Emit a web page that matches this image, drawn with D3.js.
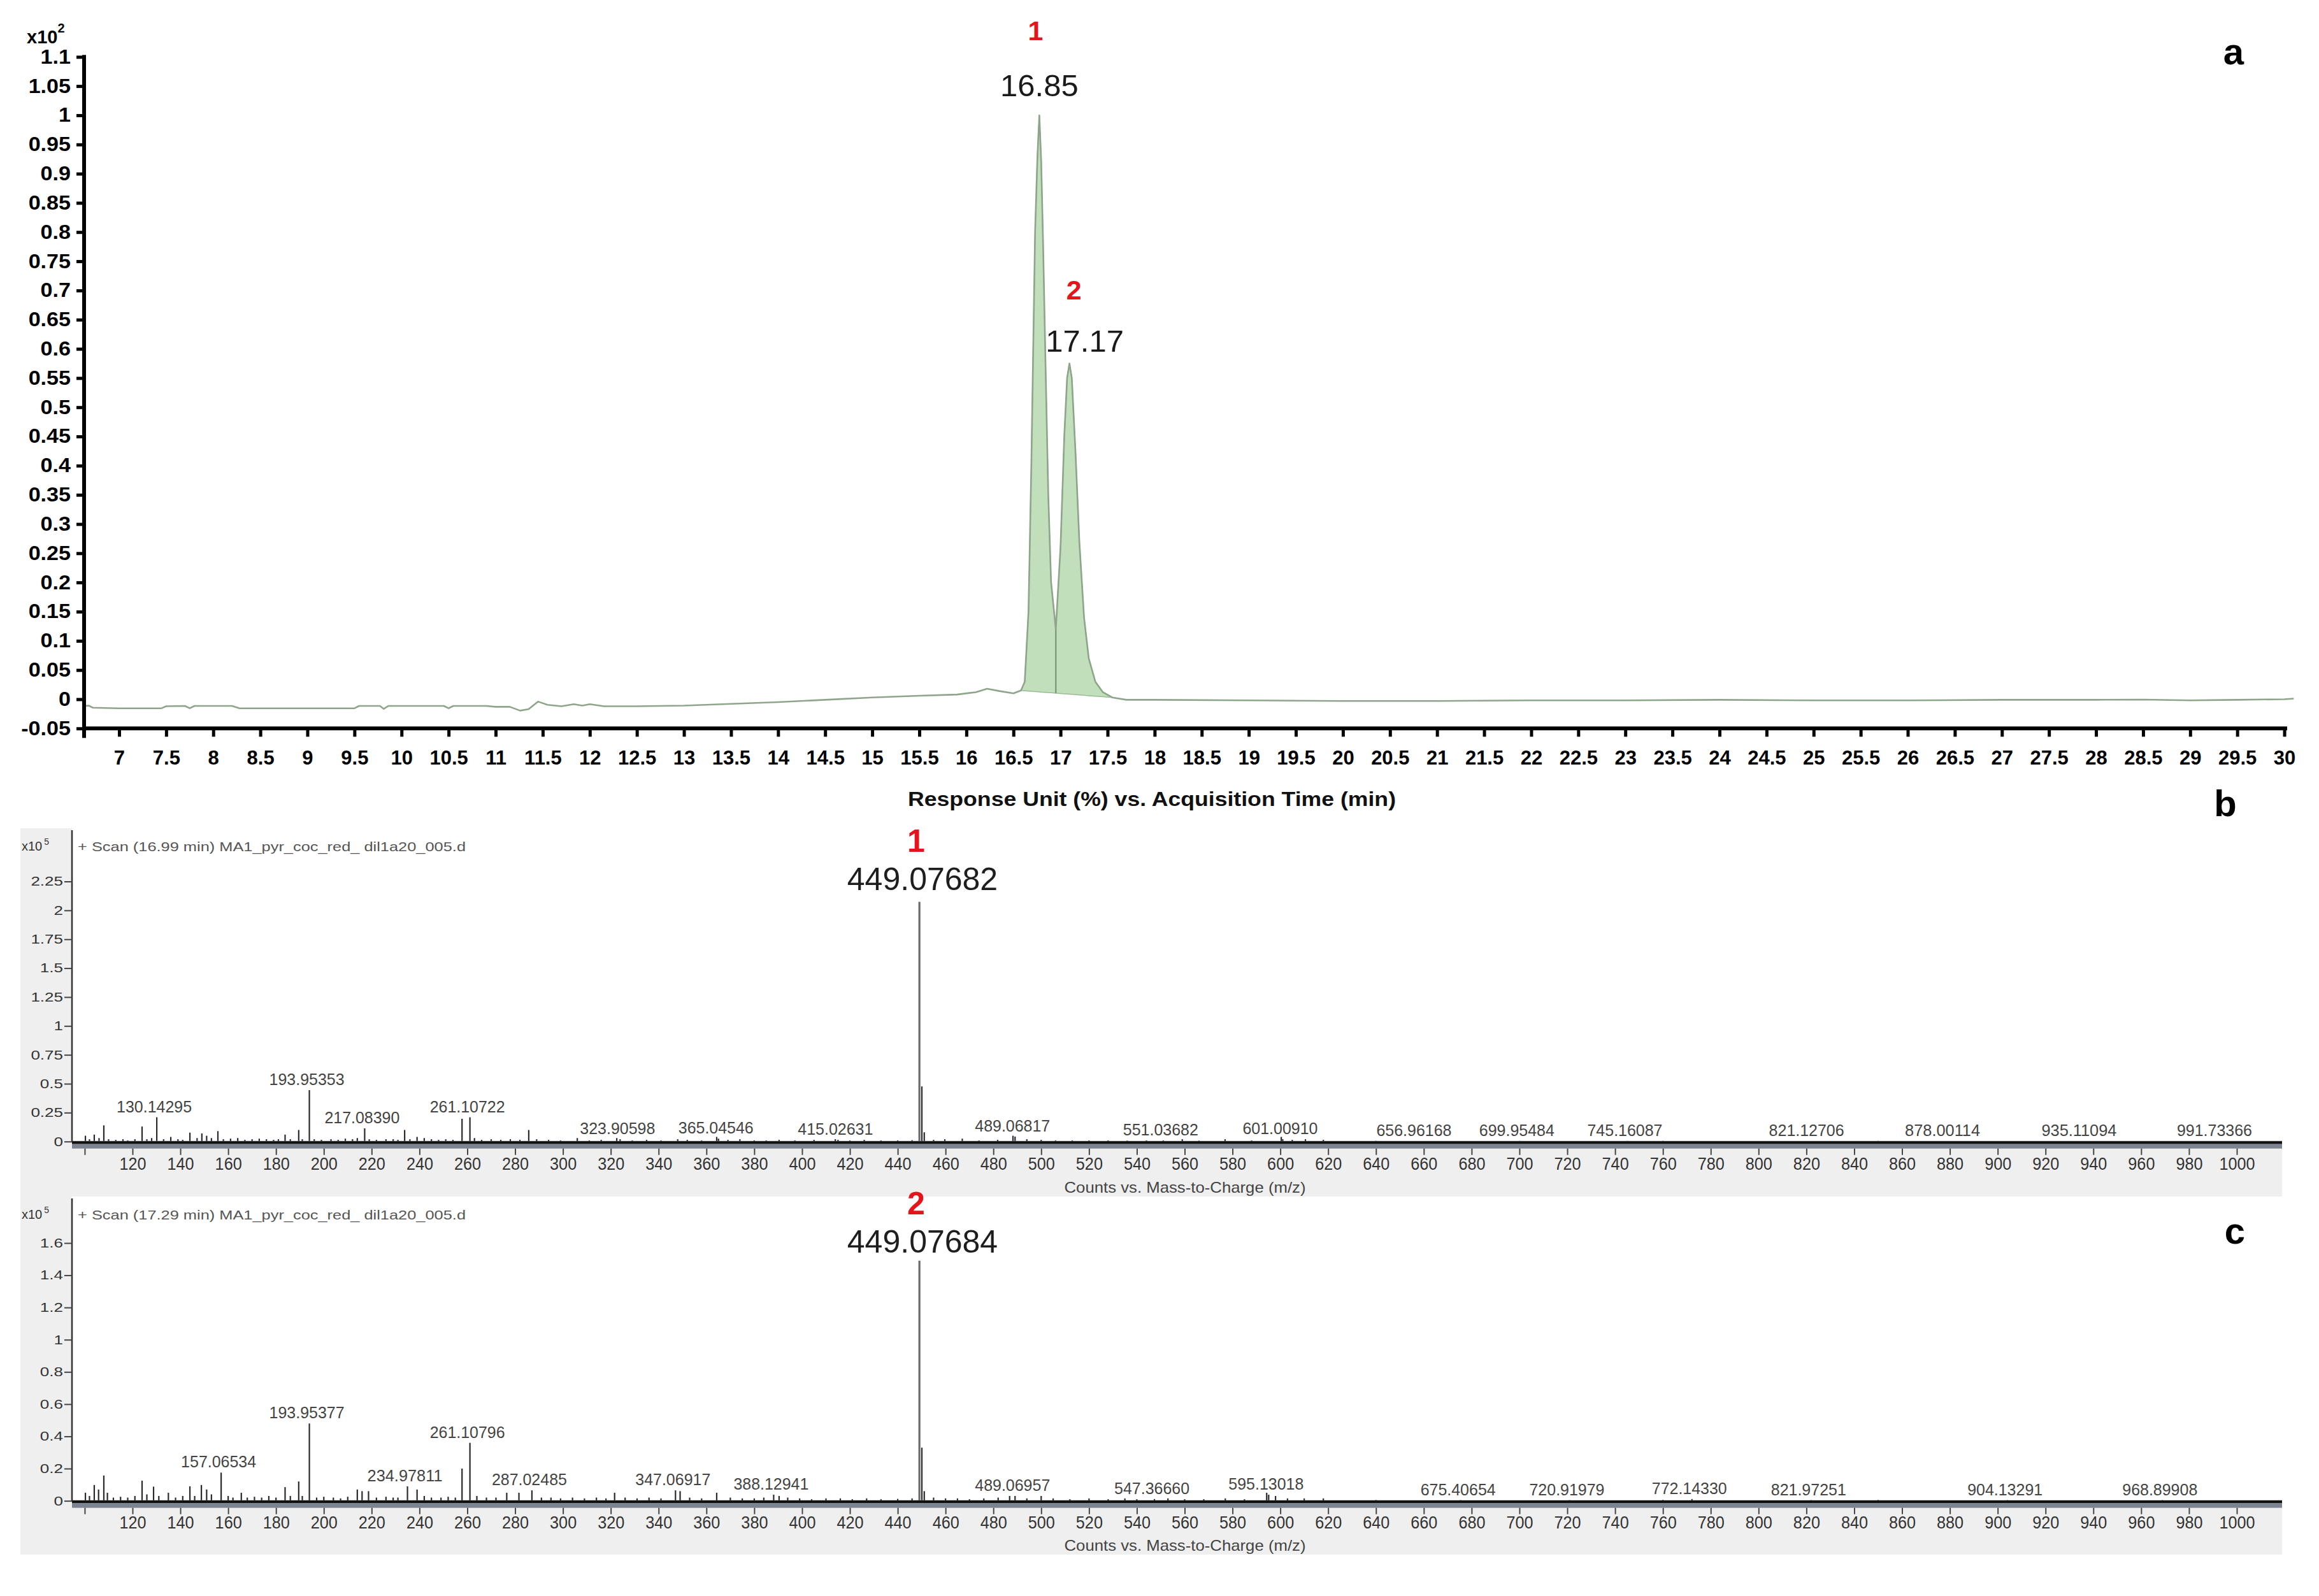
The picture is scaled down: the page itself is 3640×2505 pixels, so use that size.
<!DOCTYPE html>
<html><head><meta charset="utf-8">
<script src="https://cdn.jsdelivr.net/npm/d3@7"></script>
<style>
body{margin:0;background:#fff}
svg{display:block}
text{font-family:"Liberation Sans",Arial,Helvetica,sans-serif}
</style>
</head><body>
<svg id="fig" width="3640" height="2505"></svg>
<script>
// ---------------- DATA ----------------
// Panel a: chromatogram, [time (min), response (x10^2 %)]
const chromatogram = [
 [6.63,-0.0115],[6.68,-0.011],[6.72,-0.0145],[7.0,-0.0155],[7.45,-0.0155],[7.5,-0.012],[7.7,-0.0115],
 [7.75,-0.0155],[7.8,-0.0115],[8.2,-0.0115],[8.28,-0.0155],[9.5,-0.0155],[9.55,-0.0115],[9.77,-0.0115],
 [9.81,-0.0165],[9.86,-0.0115],[10.45,-0.0115],[10.5,-0.0155],[10.55,-0.0115],[10.9,-0.0115],[11.0,-0.013],
 [11.15,-0.013],[11.26,-0.0195],[11.35,-0.017],[11.45,-0.004],[11.55,-0.0095],[11.7,-0.012],[11.83,-0.0085],
 [11.92,-0.011],[12.0,-0.0085],[12.15,-0.012],[12.5,-0.012],[13.0,-0.011],[13.5,-0.008],[14.0,-0.005],
 [14.5,-0.001],[15.0,0.003],[15.5,0.006],[15.9,0.008],[16.1,0.012],[16.22,0.018],[16.35,0.014],[16.5,0.01],
 [16.58,0.015],[16.62,0.03],[16.66,0.15],[16.69,0.4],[16.71,0.6],[16.73,0.8],[16.755,0.93],[16.775,1.0],
 [16.795,0.92],[16.815,0.78],[16.84,0.58],[16.87,0.35],[16.9,0.2],[16.95,0.12],[17.0,0.26],[17.04,0.45],
 [17.07,0.55],[17.095,0.575],[17.12,0.55],[17.16,0.42],[17.2,0.27],[17.25,0.14],[17.3,0.07],[17.37,0.03],
 [17.45,0.012],[17.55,0.003],[17.7,-0.001],[18,-0.001],[19,-0.002],[20,-0.003],[21,-0.003],[22,-0.002],
 [23,-0.002],[24,-0.001],[25,-0.002],[26,-0.002],[27,-0.001],[28,-0.001],[28.5,-0.0005],[29,-0.002],
 [29.5,-0.001],[30,0.0],[30.1,0.001]
];
const peakWindowsA = [[16.58,16.95],[16.95,17.55]];
const peakApexA = [16.775, 17.095];
const peakRtLabelsA = ["16.85","17.17"];
const peakNumLabelsA = ["1","2"];
const xTicksA = [7,7.5,8,8.5,9,9.5,10,10.5,11,11.5,12,12.5,13,13.5,14,14.5,15,15.5,16,16.5,17,17.5,18,18.5,19,19.5,20,20.5,21,21.5,22,22.5,23,23.5,24,24.5,25,25.5,26,26.5,27,27.5,28,28.5,29,29.5,30];
const yTicksA = [-0.05,0,0.05,0.1,0.15,0.2,0.25,0.3,0.35,0.4,0.45,0.5,0.55,0.6,0.65,0.7,0.75,0.8,0.85,0.9,0.95,1,1.05,1.1];

// Panel b: MS scan at 16.99 min, [m/z, counts x10^5]
const mainPeakB = [449.07682, 2.074];
const labeledPeaksB = [
 [130.14295,0.21],[193.95353,0.445],[217.08390,0.114],[261.10722,0.21],[323.90598,0.02],[365.04546,0.025],
 [415.02631,0.015],[489.06817,0.043],[551.03682,0.01],[601.00910,0.02],[656.96168,0.004],[699.95484,0.004],
 [745.16087,0.005],[821.12706,0.004],[878.00114,0.004],[935.11094,0.004],[991.73366,0.004]
];
const minorPeaksB = [
 [100.3,0.05],[102,0.02],[104,0.06],[106,0.03],[108,0.14],[110,0.02],[113,0.015],[116,0.02],[118,0.01],[121,0.02],
 [124,0.13],[126,0.02],[128,0.03],[133,0.02],[136,0.04],[139,0.02],[141,0.015],[144,0.077],[147,0.03],[149,0.07],
 [151,0.05],[153,0.03],[155.7,0.09],[158,0.02],[161,0.025],[164,0.03],[167,0.015],[170,0.02],[173,0.025],[176,0.02],
 [179,0.015],[181,0.02],[183.8,0.06],[186,0.02],[189.5,0.10],[191,0.02],[196,0.02],[199,0.015],[203,0.02],[206,0.015],
 [209,0.025],[212,0.02],[214,0.03],[219,0.02],[222,0.015],[226,0.02],[229,0.02],[231,0.015],[233.8,0.10],[236,0.02],
 [239,0.04],[242,0.03],[245,0.02],[248,0.015],[251,0.02],[254,0.015],[257.8,0.197],[263,0.03],[266,0.015],[270,0.02],
 [274,0.015],[278,0.02],[282,0.015],[285.7,0.10],[289,0.02],[294,0.015],[299,0.01],[306,0.03],[311,0.01],[316,0.015],
 [322.5,0.03],[329,0.01],[335,0.015],[341,0.01],[348,0.02],[352,0.015],[358,0.01],[364.3,0.04],[369,0.015],[374,0.02],
 [380,0.01],[385,0.01],[390.4,0.015],[397,0.01],[405,0.015],[413.9,0.02],[420,0.01],[426,0.015],[433,0.01],[440,0.01],
 [446,0.012],[450.1,0.477],[451.1,0.08],[455,0.015],[459.7,0.02],[467,0.025],[474,0.01],[481.8,0.015],[488.2,0.05],
 [494,0.02],[500,0.015],[506,0.01],[513,0.01],[520,0.01],[528,0.01],[536,0.008],[544,0.01],[559,0.02],[566,0.008],
 [576.9,0.02],[588,0.01],[600.4,0.04],[605,0.015],[610.5,0.02],[618,0.015],[640,0.006],[700,0.005],[760,0.006],[850,0.005]
];
// Panel c: MS scan at 17.29 min
const mainPeakC = [449.07684, 1.49];
const labeledPeaksC = [
 [157.06534,0.175],[193.95377,0.48],[234.97811,0.09],[261.10796,0.36],[287.02485,0.065],[347.06917,0.065],
 [388.12941,0.038],[489.06957,0.03],[547.36660,0.011],[595.13018,0.038],[675.40654,0.004],[720.91979,0.004],
 [772.14330,0.011],[821.97251,0.004],[904.13291,0.004],[968.89908,0.004]
];
const minorPeaksC = [
 [100.3,0.05],[102,0.03],[104,0.098],[105.8,0.07],[108,0.157],[109.5,0.05],[112,0.02],[115,0.025],[118,0.02],[121,0.03],
 [124,0.125],[126,0.04],[128.8,0.088],[131,0.03],[135,0.05],[138,0.02],[141,0.03],[144,0.09],[146,0.03],[148.8,0.098],
 [151,0.07],[153,0.04],[160,0.03],[162,0.02],[165.5,0.05],[168,0.02],[171,0.025],[174,0.02],[177,0.03],[180,0.02],
 [183.8,0.085],[186,0.03],[189.5,0.12],[191,0.03],[197,0.02],[200,0.025],[204,0.02],[207,0.015],[210,0.025],[214,0.07],
 [216,0.06],[218.7,0.06],[222,0.02],[226,0.025],[229,0.02],[231,0.02],[239,0.07],[242,0.03],[245,0.02],[249,0.02],
 [252,0.025],[255,0.02],[257.8,0.2],[264,0.03],[268,0.02],[272,0.02],[276.5,0.05],[281.6,0.05],[291,0.02],[295,0.02],
 [299,0.015],[304,0.02],[309,0.015],[314,0.02],[318,0.015],[321.6,0.05],[326,0.02],[331,0.015],[336,0.02],[341,0.015],
 [349,0.06],[353,0.02],[358,0.015],[364.3,0.05],[370,0.02],[375,0.015],[380,0.015],[384,0.02],[390.4,0.03],[394,0.02],
 [399,0.015],[404,0.01],[410,0.015],[416,0.015],[421,0.01],[427,0.015],[433,0.01],[440,0.012],[446,0.015],[450.1,0.33],
 [451.1,0.06],[455,0.02],[460,0.015],[465,0.015],[470,0.01],[476,0.015],[482,0.02],[486.8,0.03],[494,0.015],[500,0.03],
 [505,0.015],[512,0.01],[520,0.015],[528,0.01],[535,0.015],[540,0.01],[553,0.015],[560,0.01],[568,0.01],[577,0.015],
 [585,0.01],[594.3,0.05],[598,0.03],[603,0.015],[610,0.015],[618,0.015],[640,0.005],[760,0.006],[850,0.005]
];
const xTicksMS = [100,120,140,160,180,200,220,240,260,280,300,320,340,360,380,400,420,440,460,480,500,520,540,560,580,600,620,640,660,680,700,720,740,760,780,800,820,840,860,880,900,920,940,960,980,1000];
const yTicksB = [0,0.25,0.5,0.75,1,1.25,1.5,1.75,2,2.25];
const yTicksC = [0,0.2,0.4,0.6,0.8,1,1.2,1.4,1.6];
const scanTitles = ["+ Scan (16.99 min) MA1_pyr_coc_red_ dil1a20_005.d", "+ Scan (17.29 min) MA1_pyr_coc_red_ dil1a20_005.d"];

// ---------------- HELPERS ----------------
const svg = d3.select("#fig");
function stretch(sel, f){
  sel.each(function(){
    const w = this.getComputedTextLength();
    if (w > 0) d3.select(this).attr("textLength", w*f).attr("lengthAdjust","spacingAndGlyphs");
  });
}

// ---------------- PANEL A ----------------
const gA = svg.append("g");
const xA = d3.scaleLinear().domain([6.628, 30.03]).range([132, 3590]);
const yA = d3.scaleLinear().domain([-0.05, 1.1]).range([1143.3, 89.3]);

const b0 = chromatogram.find(d=>d[0]===peakWindowsA[0][0]);
const b1 = chromatogram.find(d=>d[0]===peakWindowsA[1][1]);
const baseA = t => b0[1] + (b1[1]-b0[1])*(t-b0[0])/(b1[0]-b0[0]);

const areaA = d3.area().x(d=>xA(d[0])).y0(d=>yA(baseA(d[0]))).y1(d=>yA(d[1]));
peakWindowsA.forEach(w=>{
  const pts = chromatogram.filter(d=>d[0]>=w[0] && d[0]<=w[1]);
  gA.append("path").attr("d", areaA(pts)).attr("fill","#c2dfbc").attr("stroke","#9bbb96").attr("stroke-width",1.5);
});
// split line between the two integrated peaks
const split = chromatogram.find(d=>d[0]===peakWindowsA[0][1]);
gA.append("line").attr("x1",xA(split[0])).attr("x2",xA(split[0]))
  .attr("y1",yA(baseA(split[0]))).attr("y2",yA(split[1])).attr("stroke","#7f9c7b").attr("stroke-width",2.5);
// trace
gA.append("path").attr("d", d3.line().x(d=>xA(d[0])).y(d=>yA(d[1]))(chromatogram))
  .attr("fill","none").attr("stroke","#8ea58b").attr("stroke-width",2.6).attr("stroke-linejoin","round");

// axes
const yAxA = gA.append("g").attr("transform","translate(132,0)")
  .call(d3.axisLeft(yA).tickValues(yTicksA).tickFormat(v=>String(+v.toFixed(2))).tickSize(12).tickPadding(9).tickSizeOuter(0));
yAxA.select(".domain").remove();
yAxA.selectAll(".tick line").attr("stroke","#000").attr("stroke-width",5);
yAxA.selectAll(".tick text").attr("fill","#000").style("font-size","31px").style("font-weight","bold");
stretch(yAxA.selectAll(".tick text"), 1.1);

const xAxA = gA.append("g").attr("transform",`translate(0,${yA(-0.05)})`)
  .call(d3.axisBottom(xA).tickValues(xTicksA).tickFormat(v=>String(v)).tickSize(13).tickPadding(22).tickSizeOuter(0));
xAxA.select(".domain").remove();
xAxA.selectAll(".tick line").attr("stroke","#000").attr("stroke-width",5);
xAxA.selectAll(".tick text").attr("fill","#000").style("font-size","31px").style("font-weight","bold");

gA.append("line").attr("x1",129).attr("x2",3590).attr("y1",yA(-0.05)).attr("y2",yA(-0.05)).attr("stroke","#000").attr("stroke-width",6);
gA.append("line").attr("x1",132).attr("x2",132).attr("y1",yA(1.1)-3).attr("y2",yA(-0.05)+15).attr("stroke","#000").attr("stroke-width",6);

const x10 = gA.append("text").attr("x",42).attr("y",68).attr("font-weight","bold").attr("font-size",29).attr("fill","#000");
x10.append("tspan").text("x10");
x10.append("tspan").attr("dy",-17).attr("font-size",20).text("2");

gA.append("text").attr("x",1808).attr("y",1265).attr("text-anchor","middle").attr("font-weight","bold")
  .attr("font-size",31).attr("fill","#111").attr("textLength",766).attr("lengthAdjust","spacingAndGlyphs")
  .text("Response Unit (%) vs. Acquisition Time (min)");

// peak annotations
const rtOff = [{dx:0, gap:30, ndx:-6, ngap:88, nsize:43},{dx:24, gap:18, ndx:7, ngap:82, nsize:43}];
peakApexA.forEach((t,i)=>{
  const apex = chromatogram.find(d=>d[0]===t);
  const lx = xA(t)+rtOff[i].dx, ly = yA(apex[1]) - rtOff[i].gap;
  gA.append("text").attr("x",lx).attr("y",ly).attr("text-anchor","middle").attr("font-size",49).attr("fill","#1a1a1a").text(peakRtLabelsA[i]);
  gA.append("text").attr("x",xA(t)+rtOff[i].ndx).attr("y",ly-rtOff[i].ngap).attr("text-anchor","middle")
    .attr("font-size",rtOff[i].nsize).attr("font-weight","bold").attr("fill","#e3141b").text(peakNumLabelsA[i]);
});
gA.append("text").attr("x",3506).attr("y",101).attr("text-anchor","middle").attr("font-weight","bold").attr("font-size",58).attr("fill","#000").text("a");

// ---------------- PANELS B & C ----------------
const xMS = d3.scaleLinear().domain([120,1000]).range([208,3511]);
function msPanel(cfg){
  const g = svg.append("g");
  const y = d3.scaleLinear().domain([0, cfg.yTicks[cfg.yTicks.length-1]]).range([cfg.y0, cfg.yTop]);
  g.append("rect").attr("x",32).attr("y",cfg.top).attr("width",3550).attr("height",cfg.bottom-cfg.top).attr("fill","#efefef");
  g.append("rect").attr("x",113).attr("y",cfg.top).attr("width",3469).attr("height",cfg.y0-cfg.top).attr("fill","#fff");

  // spectrum sticks
  const sticks = cfg.minor.concat(cfg.labeled);
  g.selectAll("line.stick").data(sticks).join("line").attr("class","stick")
    .attr("x1",d=>xMS(d[0])).attr("x2",d=>xMS(d[0])).attr("y1",y(0)).attr("y2",d=>y(d[1]))
    .attr("stroke","#2a2a2a").attr("stroke-width",2.2);
  g.append("line").attr("x1",xMS(cfg.main[0])).attr("x2",xMS(cfg.main[0])).attr("y1",y(0)).attr("y2",y(cfg.main[1]))
    .attr("stroke","#6b6b6b").attr("stroke-width",3.2);

  // peak labels
  g.selectAll("text.pl").data(cfg.labeled).join("text").attr("class","pl")
    .attr("x",d=>xMS(d[0])-4).attr("y",d=>y(d[1])-8).attr("text-anchor","middle")
    .attr("font-size",26).attr("fill","#444").attr("textLength",118).attr("lengthAdjust","spacingAndGlyphs")
    .text(d=>d[0].toFixed(5));
  g.append("text").attr("x",1448).attr("y",cfg.mainLabelY).attr("text-anchor","middle").attr("font-size",50).attr("fill","#1e1e1e")
    .text(cfg.main[0].toFixed(5));
  g.append("text").attr("x",1438).attr("y",cfg.mainLabelY-60).attr("text-anchor","middle").attr("font-size",50)
    .attr("font-weight","bold").attr("fill","#e3141b").text(cfg.num);

  // x-axis band
  g.append("rect").attr("x",113).attr("y",cfg.y0-1).attr("width",3469).attr("height",12).attr("fill","#7c8391");
  g.append("line").attr("x1",113).attr("x2",3582).attr("y1",cfg.y0+1.5).attr("y2",cfg.y0+1.5).attr("stroke","#111").attr("stroke-width",4);
  const xa = g.append("g").attr("transform",`translate(0,${cfg.y0+11})`)
    .call(d3.axisBottom(xMS).tickValues(xTicksMS).tickFormat(v=>v===100?"":String(v)).tickSize(10).tickPadding(3).tickSizeOuter(0));
  xa.select(".domain").remove();
  xa.selectAll(".tick line").attr("stroke","#444").attr("stroke-width",2);
  xa.selectAll(".tick text").attr("fill","#333").style("font-size","28px");
  stretch(xa.selectAll(".tick text"), 0.9);
  g.append("text").attr("x",1860).attr("y",cfg.titleY).attr("text-anchor","middle").attr("font-size",24).attr("fill","#444")
    .attr("textLength",379).attr("lengthAdjust","spacingAndGlyphs").text("Counts vs. Mass-to-Charge (m/z)");

  // y-axis
  g.append("line").attr("x1",113).attr("x2",113).attr("y1",cfg.top+3).attr("y2",cfg.y0).attr("stroke","#333").attr("stroke-width",2.5);
  const ya = g.append("g").attr("transform","translate(113,0)")
    .call(d3.axisLeft(y).tickValues(cfg.yTicks).tickFormat(v=>String(v)).tickSize(12).tickPadding(2).tickSizeOuter(0));
  ya.select(".domain").remove();
  ya.selectAll(".tick line").attr("stroke","#444").attr("stroke-width",2);
  ya.selectAll(".tick text").attr("fill","#333").style("font-size","20px");
  stretch(ya.selectAll(".tick text"), 1.3);

  const t = g.append("text").attr("x",34).attr("y",cfg.top+35).attr("font-size",20).attr("fill","#333");
  t.append("tspan").text("x10");
  t.append("tspan").attr("dy",-9).attr("dx",3).attr("font-size",14).text("5");
  g.append("text").attr("x",122).attr("y",cfg.top+36).attr("font-size",21).attr("fill","#555")
    .attr("textLength",609).attr("lengthAdjust","spacingAndGlyphs").text(cfg.title);

  g.append("text").attr("x",cfg.letterX).attr("y",cfg.letterY).attr("text-anchor","middle").attr("font-weight","bold")
    .attr("font-size",58).attr("fill","#000").text(cfg.letter);
}
msPanel({top:1300, bottom:1878, y0:1791.7, yTop:1383.5, yTicks:yTicksB, minor:minorPeaksB, labeled:labeledPeaksB,
  main:mainPeakB, mainLabelY:1397, num:"1", titleY:1872, title:scanTitles[0], letter:"b", letterX:3493, letterY:1281});
msPanel({top:1878, bottom:2440, y0:2355.6, yTop:1951, yTicks:yTicksC, minor:minorPeaksC, labeled:labeledPeaksC,
  main:mainPeakC, mainLabelY:1966, num:"2", titleY:2434, title:scanTitles[1], letter:"c", letterX:3508, letterY:1952});
</script>
</body></html>
